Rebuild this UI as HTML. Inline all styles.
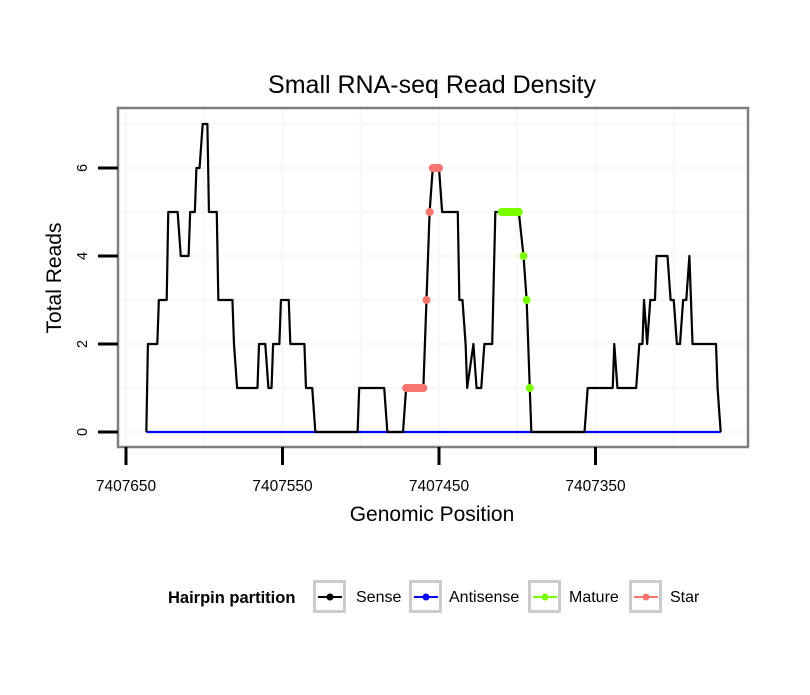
<!DOCTYPE html>
<html><head><meta charset="utf-8"><style>
body{margin:0;background:#fff;}
svg text{font-family:"Liberation Sans",sans-serif;}
</style></head><body>
<svg id="chart" width="810" height="690" viewBox="0 0 810 690">
<rect width="810" height="690" fill="#fff"/>
<text x="432" y="93" font-size="25" text-anchor="middle">Small RNA-seq Read Density</text>
<g id="grid"></g>
<g id="series"></g>
<rect x="118" y="108" width="630" height="339" fill="none" stroke="#7f7f7f" stroke-width="2.5"/>
<g id="axes"></g>
<text x="432" y="521" font-size="21" text-anchor="middle">Genomic Position</text>
<text transform="translate(61,278) rotate(-90)" font-size="21" text-anchor="middle">Total Reads</text>
<g id="legend">
<text x="168" y="603" font-size="16.5" font-weight="bold">Hairpin partition</text>
</g>
</svg>
<script>
// Sense runs: [start position, end position, reads]
const senseRuns = [[637,637,0],[636,630,2],[629,624,3],[623,617,5],[615,610,4],[609,606,5],[605,603,6],[601,598,7],[597,592,5],[591,582,3],[581,581,2],[579,566,1],[565,561,2],[559,557,1],[556,552,2],[551,546,3],[545,536,2],[535,531,1],[529,502,0],[501,485,1],[483,473,0],[471,460,1],[458,458,3],[456,456,5],[454,450,6],[448,438,5],[437,435,3],[433,433,2],[432,432,1],[428,428,2],[426,423,1],[421,416,2],[414,399,5],[396,396,4],[394,394,3],[392,392,1],[391,357,0],[355,339,1],[338,338,2],[336,324,1],[322,320,2],[319,319,3],[317,317,2],[315,312,3],[311,304,4],[302,300,3],[298,296,2],[294,292,3],[290,290,4],[288,273,2],[272,272,1],[270,270,0]];
const antisenseRuns = [[637,270,0]];
const starRuns = [[471,460,1],[458,458,3],[456,456,5],[454,450,6]];
const matureRuns = [[410,399,5],[396,396,4],[394,394,3],[392,392,1]];
const xTicks = [7407650,7407550,7407450,7407350];
const xTickLabels = ["7407650","7407550","7407450","7407350"];
const xMinorGrid = [7407600,7407500,7407400,7407300];
const yTicks = [0,2,4,6];
const yMinorGrid = [1,3,5,7];
const BASE = 7407000;

const NS = "http://www.w3.org/2000/svg";
function X(p){ return 126 + (7407650 - p) * 1.565; }
function Y(v){ return 432 - v * 44; }
function mk(tag, attrs, parent){ const e=document.createElementNS(NS,tag); for(const k in attrs) e.setAttribute(k,attrs[k]); parent.appendChild(e); return e; }

const grid=document.getElementById('grid');
yMinorGrid.concat(yTicks).forEach(v=>{
  const l=mk('line',{x1:118,x2:748,y1:Y(v),y2:Y(v),stroke:'#f8f8f8','stroke-width':2.5},grid);
  
  
});
xMinorGrid.concat(xTicks).forEach(p=>{
  const l=mk('line',{x1:X(p),x2:X(p),y1:108,y2:447,stroke:'#f8f8f8','stroke-width':2.5},grid);
  
  
});

const series=document.getElementById('series');
function runPts(runs){ const pts=[]; runs.forEach(r=>{ pts.push([X(BASE+r[0]),Y(r[2])]); pts.push([X(BASE+r[1]),Y(r[2])]); }); return pts; }
function drawLine(runs,color,name){
  const p=mk('polyline',{points:runPts(runs).map(a=>a.join(',')).join(' '),fill:'none',stroke:color,'stroke-width':2.2,'stroke-linejoin':'round'},series);
  
  
}
function drawDots(runs,color,name){
  runs.forEach(r=>{
    for(let q=r[0]; q>=r[1]; q--){
      const c=mk('circle',{cx:X(BASE+q),cy:Y(r[2]),r:4,fill:color},series);
      
      
    }
  });
}
drawLine(antisenseRuns,'#0000ff','antisense-line');
drawLine(senseRuns,'#000000','sense-line');
drawDots(starRuns,'#f8766d','star-point');
drawDots(matureRuns,'#7cfc00','mature-point');

const axes=document.getElementById('axes');
yTicks.forEach(v=>{
  const t=mk('line',{x1:98,x2:118,y1:Y(v),y2:Y(v),stroke:'#000','stroke-width':3},axes);
  
  
  const tx=mk('text',{transform:`translate(87,${Y(v)}) rotate(-90)`,'font-size':14.5,'text-anchor':'middle'},axes);
  tx.textContent=String(v);
  
  
});
xTicks.forEach((p,i)=>{
  const t=mk('line',{x1:X(p),x2:X(p),y1:447,y2:465,stroke:'#000','stroke-width':3},axes);
  
  
  const tx=mk('text',{x:X(p),y:491,'font-size':15.5,'text-anchor':'middle'},axes);
  tx.textContent=xTickLabels[i];
  
  
});

const legend=document.getElementById('legend');
const legKeys=[[313,'#000000','Sense',356],[409,'#0000ff','Antisense',449],[528,'#7cfc00','Mature',569],[629,'#f8766d','Star',670]];
legKeys.forEach(k=>{
  const b=mk('rect',{x:k[0]+1.5,y:581.5,width:30,height:30,fill:'#fff',stroke:'#cccccc','stroke-width':3},legend);
  
  
  mk('line',{x1:k[0]+5,x2:k[0]+29,y1:597,y2:597,stroke:k[1],'stroke-width':2},legend);
  mk('circle',{cx:k[0]+17,cy:597,r:3.5,fill:k[1]},legend);
  const t=mk('text',{x:k[3],y:602,'font-size':16},legend);
  t.textContent=k[2];
  
  
});
</script>
</body></html>
